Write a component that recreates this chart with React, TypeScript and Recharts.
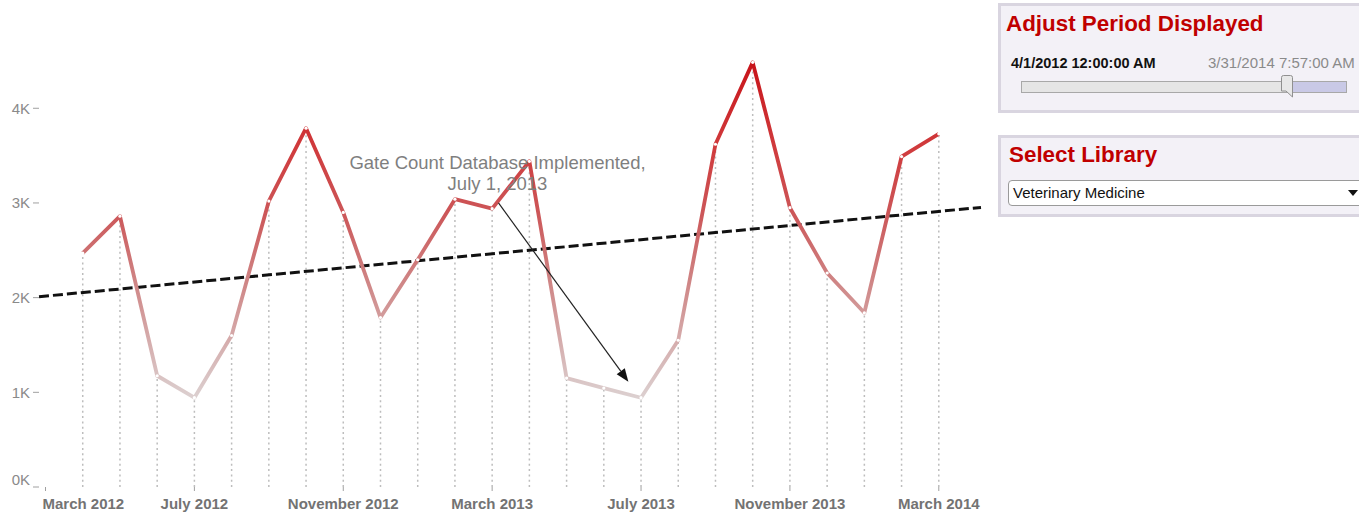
import { LineChart, Line, XAxis, YAxis, ReferenceLine } from 'recharts';

// month labels, index 0 = March 2012
const months = [
  'March 2012', 'April 2012', 'May 2012', 'June 2012', 'July 2012', 'August 2012',
  'September 2012', 'October 2012', 'November 2012', 'December 2012', 'January 2013',
  'February 2013', 'March 2013', 'April 2013', 'May 2013', 'June 2013', 'July 2013',
  'August 2013', 'September 2013', 'October 2013', 'November 2013', 'December 2013',
  'January 2014', 'February 2014', 'March 2014', 'April 2014'
];

// monthly gate count (no data for March 2012 / April 2014)
const gateCount: (number | null)[] = [
  null, 2470, 2860, 1175, 943, 1600, 3020, 3790, 2900, 1790, 2400, 3040, 2940,
  3440, 1150, 1045, 943, 1550, 3620, 4485, 2950, 2260, 1840, 3490, 3730, null
];

const labeledMonths = [0, 4, 8, 12, 16, 20, 24];
const yTicks = [0, 1000, 2000, 3000, 4000];

// linear trend, value at each end of the axis
const trendEnds = [
  { m: -0.175, v: 2010 },
  { m: 25.134, v: 2953 }
];

const noteLines = ['Gate Count Database Implemented,', 'July 1, 2013'];
const noteArrow = [
  { m: 12.17, v: 3000 },
  { m: 15.66, v: 1112 }
];

// value -> line colour
const colorStops: [number, string][] = [
  [4485, '#c8141a'],
  [3600, '#d03a3c'],
  [2880, '#cc5759'],
  [2170, '#cf8585'],
  [1450, '#d6b2b2'],
  [943, '#dcd0d0']
];

const data = months.map((label, i) => ({ m: i, label, count: gateCount[i] }));
const known = gateCount.filter((v): v is number => v != null);
const vMax = Math.max(...known);
const vMin = Math.min(...known);

const YTick = (props: any) => {
  const { x, y, payload } = props;
  const shift = payload.value === 0 ? -8 : 0;
  return (
    <text x={x} y={y + shift} textAnchor="end" dominantBaseline="central" fill="#8a8a8a" fontSize={15}>
      {`${payload.value / 1000}K`}
    </text>
  );
};

// first label is kept inside the axis (left aligned on its tick)
const XTick = (props: any) => {
  const { x, y, payload, index } = props;
  const first = index === 0;
  return (
    <text
      x={first ? x - 3 : x}
      y={y}
      dy="0.71em"
      textAnchor={first ? 'start' : 'middle'}
      fill="#737373"
      fontSize={15}
      fontWeight="bold"
    >
      {months[payload.value]}
    </text>
  );
};

const NoteArrow = (props: any) => {
  const { x1, y1, x2, y2 } = props;
  const ang = Math.atan2(y2 - y1, x2 - x1);
  const len = 13;
  const half = 5;
  const bx = x2 - len * Math.cos(ang);
  const by = y2 - len * Math.sin(ang);
  const px = -Math.sin(ang) * half;
  const py = Math.cos(ang) * half;
  return (
    <g>
      <text x={x1 - 1} y={y1 - 40} textAnchor="middle" dominantBaseline="central" fill="#7f7f7f" fontSize={18.5}>
        {noteLines[0]}
      </text>
      <text x={x1 - 1} y={y1 - 19} textAnchor="middle" dominantBaseline="central" fill="#7f7f7f" fontSize={18.5}>
        {noteLines[1]}
      </text>
      <line x1={x1} y1={y1} x2={bx} y2={by} stroke="#222" strokeWidth={1.2} />
      <polygon points={`${x2},${y2} ${bx + px},${by + py} ${bx - px},${by - py}`} fill="#111" />
    </g>
  );
};

const panelBox: React.CSSProperties = {
  position: 'absolute',
  left: 998,
  width: 370,
  boxSizing: 'border-box',
  border: '3px solid #d9d5e0',
  background: '#f3f1f7'
};

const panelTitle: React.CSSProperties = {
  position: 'absolute',
  fontSize: 22.4,
  lineHeight: '24px',
  fontWeight: 'bold',
  color: '#c00000',
  whiteSpace: 'nowrap'
};

export default function App() {
  return (
    <div
      style={{
        position: 'absolute',
        left: 0,
        top: 0,
        width: 1359,
        height: 515,
        overflow: 'hidden',
        background: '#fff',
        fontFamily: "Arial, 'Liberation Sans', sans-serif"
      }}
    >
      <div style={{ position: 'absolute', left: 0, top: 0 }}>
        <LineChart width={990} height={515} data={data} margin={{ top: 42, right: 9, bottom: 0, left: 0 }}>
          <defs>
            <linearGradient id="countGrad" x1="0" y1="0" x2="0" y2="1">
              {colorStops.map(([v, c]) => (
                <stop key={v} offset={(vMax - v) / (vMax - vMin)} stopColor={c} />
              ))}
            </linearGradient>
          </defs>
          <XAxis
            type="number"
            dataKey="m"
            domain={[-0.175, 25.134]}
            allowDataOverflow
            ticks={labeledMonths}
            axisLine={false}
            tickLine={{ stroke: '#a0a0a0' }}
            tickSize={4}
            tickMargin={7}
            height={28}
            interval={0}
            tick={<XTick />}
          />
          <YAxis
            domain={[0, 4700]}
            allowDataOverflow
            ticks={yTicks}
            width={39}
            axisLine={false}
            tickLine={{ stroke: '#a0a0a0' }}
            tickSize={6}
            tickMargin={3}
            tick={<YTick />}
          />
          {data
            .filter((d) => d.count != null)
            .map((d) => (
              <ReferenceLine
                key={d.m}
                segment={[
                  { x: d.m, y: 0 },
                  { x: d.m, y: d.count as number }
                ]}
                stroke="#bdbdbd"
                strokeWidth={1.5}
                strokeDasharray="2 3.3"
              />
            ))}
          <ReferenceLine
            segment={trendEnds.map((p) => ({ x: p.m, y: p.v }))}
            ifOverflow="visible"
            stroke="#111"
            strokeWidth={3}
            strokeDasharray="10 4"
          />
          <Line
            dataKey="count"
            stroke="url(#countGrad)"
            strokeWidth={3.8}
            strokeLinejoin="round"
            dot={{ r: 1.6, fill: '#fff', stroke: 'none' }}
            activeDot={false}
            isAnimationActive={false}
          />
          <ReferenceLine
            segment={noteArrow.map((p) => ({ x: p.m, y: p.v }))}
            ifOverflow="visible"
            shape={NoteArrow}
          />
        </LineChart>
      </div>

      <div style={{ ...panelBox, top: 3, height: 110 }}>
        <div style={{ ...panelTitle, left: 5, top: 6 }}>Adjust Period Displayed</div>
        <div style={{ position: 'absolute', left: 10, top: 48, fontSize: 14.5, lineHeight: '18px', fontWeight: 'bold', color: '#111', whiteSpace: 'nowrap' }}>
          4/1/2012 12:00:00 AM
        </div>
        <div style={{ position: 'absolute', left: 207, top: 48, fontSize: 15, lineHeight: '18px', color: '#8a8a8a', whiteSpace: 'nowrap' }}>
          3/31/2014 7:57:00 AM
        </div>
        <div
          style={{
            position: 'absolute',
            left: 20,
            top: 75,
            width: 326,
            height: 12,
            boxSizing: 'border-box',
            border: '1px solid #a8a8a8',
            background: 'linear-gradient(to right, #e5e5e5 0, #e5e5e5 271px, #c9c9e6 271px)'
          }}
        />
        <svg style={{ position: 'absolute', left: 279, top: 69 }} width={14} height={23}>
          <path d="M1.5,2.5 Q1.5,0.5 3.5,0.5 L10.5,0.5 Q12.5,0.5 12.5,2.5 L12.5,22 L6,16 L1.5,16 Z" fill="#e8e8e8" stroke="#909090" />
        </svg>
      </div>

      <div style={{ ...panelBox, top: 135, height: 82 }}>
        <div style={{ ...panelTitle, left: 8, top: 5 }}>Select Library</div>
        <div
          style={{
            position: 'absolute',
            left: 7,
            top: 42,
            width: 400,
            height: 26,
            boxSizing: 'border-box',
            border: '1px solid #9a9a9a',
            borderRadius: 4,
            background: '#fff'
          }}
        >
          <span style={{ position: 'absolute', left: 4, top: 3, fontSize: 15, lineHeight: '18px', color: '#111' }}>
            Veterinary Medicine
          </span>
          <span style={{ position: 'absolute', left: 339, top: 9, width: 0, height: 0, borderLeft: '5px solid transparent', borderRight: '5px solid transparent', borderTop: '6px solid #111' }} />
        </div>
      </div>
    </div>
  );
}
